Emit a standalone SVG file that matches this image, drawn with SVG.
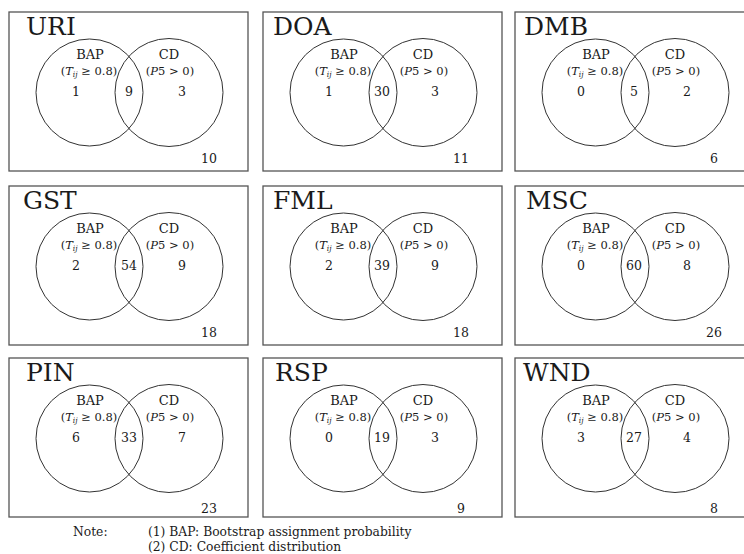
<svg xmlns="http://www.w3.org/2000/svg" width="744" height="554" viewBox="0 0 744 554">
<style>
  text{font-family:"DejaVu Serif","Liberation Serif",Tinos,"Times New Roman",Times,serif;fill:#1a1a1a}
  .box{fill:#fff;stroke:#555;stroke-width:1.3}
  .c{fill:none;stroke:#333;stroke-width:1}
  .t{font-size:25px}
  .lab{font-size:13px;text-anchor:middle}
  .cond{font-size:11.5px;text-anchor:middle}
  .n{font-size:12.5px;text-anchor:middle}
  .note{font-size:12.3px}
</style>
<defs>
  <g id="venn">
    <rect class="box" x="0" y="0" width="239" height="159"/>
    <circle class="c" cx="80.5" cy="80.5" r="53.5"/>
    <circle class="c" cx="160" cy="80.5" r="54"/>
    <text class="lab" x="81" y="47">BAP</text>
    <text class="cond" x="80" y="63">(<tspan font-style="italic">T</tspan><tspan font-style="italic" font-size="7.5" dy="2">ij</tspan><tspan dy="-2"> ≥ 0.8)</tspan></text>
    <text class="lab" x="160" y="47">CD</text>
    <text class="cond" x="161" y="63">(<tspan font-style="italic">P</tspan>5 &gt; 0)</text>
  </g>
</defs>
<g id="URI" transform="translate(9,12)">
  <use href="#venn"/>
  <text class="t" x="17" y="23">URI</text>
  <text class="n" x="67" y="84">1</text><text class="n" x="120" y="84">9</text><text class="n" x="173" y="84">3</text><text class="n" x="200" y="151">10</text>
</g>
<g id="DOA" transform="translate(263,12)">
  <use href="#venn"/>
  <text class="t" x="10" y="23">DOA</text>
  <text class="n" x="66" y="84">1</text><text class="n" x="119" y="84">30</text><text class="n" x="172" y="84">3</text><text class="n" x="198" y="151">11</text>
</g>
<g id="DMB" transform="translate(515,12)">
  <use href="#venn"/>
  <text class="t" x="9" y="23">DMB</text>
  <text class="n" x="66" y="84">0</text><text class="n" x="119" y="84">5</text><text class="n" x="172" y="84">2</text><text class="n" x="199" y="151">6</text>
</g>
<g id="GST" transform="translate(9,186)">
  <use href="#venn"/>
  <text class="t" x="14" y="23">GST</text>
  <text class="n" x="67" y="84">2</text><text class="n" x="120" y="84">54</text><text class="n" x="173" y="84">9</text><text class="n" x="200" y="151">18</text>
</g>
<g id="FML" transform="translate(263,186)">
  <use href="#venn"/>
  <text class="t" x="10" y="23">FML</text>
  <text class="n" x="66" y="84">2</text><text class="n" x="119" y="84">39</text><text class="n" x="172" y="84">9</text><text class="n" x="198" y="151">18</text>
</g>
<g id="MSC" transform="translate(515,186)">
  <use href="#venn"/>
  <text class="t" x="11" y="23">MSC</text>
  <text class="n" x="66" y="84">0</text><text class="n" x="119" y="84">60</text><text class="n" x="172" y="84">8</text><text class="n" x="199" y="151">26</text>
</g>
<g id="PIN" transform="translate(9,358)">
  <use href="#venn"/>
  <text class="t" x="17" y="23">PIN</text>
  <text class="n" x="67" y="84">6</text><text class="n" x="120" y="84">33</text><text class="n" x="173" y="84">7</text><text class="n" x="200" y="155">23</text>
</g>
<g id="RSP" transform="translate(263,358)">
  <use href="#venn"/>
  <text class="t" x="12" y="23">RSP</text>
  <text class="n" x="66" y="84">0</text><text class="n" x="119" y="84">19</text><text class="n" x="172" y="84">3</text><text class="n" x="198" y="155">9</text>
</g>
<g id="WND" transform="translate(515,358)">
  <use href="#venn"/>
  <text class="t" x="8" y="23">WND</text>
  <text class="n" x="66" y="84">3</text><text class="n" x="119" y="84">27</text><text class="n" x="172" y="84">4</text><text class="n" x="199" y="155">8</text>
</g>
<g id="connectors"/>
<g id="note">
  <text class="note" x="73" y="536">Note:</text>
  <text class="note" x="148" y="536">(1) BAP: Bootstrap assignment probability</text>
  <text class="note" x="148" y="551">(2) CD: Coefficient distribution</text>
</g>
</svg>
